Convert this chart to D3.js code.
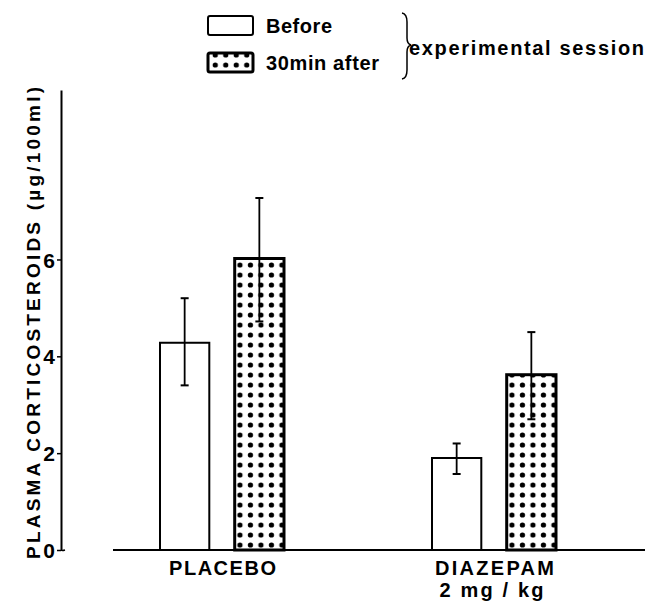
<!DOCTYPE html>
<html>
<head>
<meta charset="utf-8">
<script src="https://cdn.jsdelivr.net/npm/d3@7"></script>
<style>
  body { margin: 0; background: #fff; }
  svg text { font-family: "Liberation Sans", Arial, sans-serif; font-weight: bold; fill: #000; }
  .ylab { font-size: 21px; }
</style>
</head>
<body>
<svg width="647" height="602"></svg>
<script>
(function (d3) {
  'use strict';

  // data
  const groups = ['PLACEBO', 'DIAZEPAM'];
  const groupSub = ['', '2 mg / kg'];
  const series = ['Before', '30min after'];
  const before = [4.28, 1.9];
  const after = [6.02, 3.62];
  const beforeLow = [3.4, 1.57];
  const beforeHigh = [5.2, 2.2];
  const afterLow = [4.72, 2.7];
  const afterHigh = [7.27, 4.5];
  const yTicks = [0, 2, 4, 6];
  const yLabel = 'PLASMA  CORTICOSTEROIDS (\u00b5g/100ml)';

  const svg = d3.select('svg');

  const rows = [];
  groups.forEach((g, i) => {
    rows.push({group: g, key: series[0], value: before[i], lo: beforeLow[i], hi: beforeHigh[i]});
    rows.push({group: g, key: series[1], value: after[i], lo: afterLow[i], hi: afterHigh[i]});
  });

  const yScale = d3.scaleLinear().domain([0, 9.5]).range([550, 90]);
  const x0 = d3.scalePoint().domain(groups).range([86, 630]).padding(0.5);
  const x1 = d3.scaleBand().domain(series).range([-62, 62]).paddingInner(0.34);

  // dotted pattern
  const defs = svg.append('defs');
  const pat = defs.append('pattern')
      .attr('id', 'dots')
      .attr('patternUnits', 'userSpaceOnUse')
      .attr('width', 10.5)
      .attr('height', 10);
  pat.append('rect').attr('width', 10.5).attr('height', 10).attr('fill', '#fff');
  pat.append('circle').attr('cx', 5.25).attr('cy', 5).attr('r', 2.6).attr('fill', '#000');

  const fillFor = k => k === series[0] ? '#fff' : 'url(#dots)';

  // y axis
  const yAxis = d3.axisLeft(yScale)
      .tickValues(yTicks)
      .tickFormat('')
      .tickSize(4)
      .tickSizeOuter(0);
  const yAxisG = svg.append('g')
      .attr('transform', 'translate(61,0)')
      .call(yAxis);
  yAxisG.select('.domain').attr('stroke-width', 2).attr('stroke', '#000');
  yAxisG.selectAll('.tick line').attr('stroke-width', 1.5);
  yAxisG.selectAll('.tick text').remove();
  yAxisG.selectAll('.tick').append('text')
      .attr('class', 'ylab')
      .attr('x', -6)
      .attr('dy', '0.36em')
      .attr('text-anchor', 'end')
      .text(d => d3.format('d')(d));
  yAxisG.append('path')
      .attr('d', `M0,${yScale(0)} q1,1 4,0`)
      .attr('fill', 'none')
      .attr('stroke', '#000')
      .attr('stroke-width', 1.5);

  svg.append('text')
      .attr('transform', `translate(40,${(yScale(0) + yScale(9.5)) / 2 + 3}) rotate(-90)`)
      .attr('text-anchor', 'middle')
      .attr('textLength', 472)
      .attr('lengthAdjust', 'spacing')
      .style('font-size', '19px')
      .text(yLabel);

  // x baseline
  svg.append('line')
      .attr('x1', 113).attr('x2', 645)
      .attr('y1', yScale(0)).attr('y2', yScale(0))
      .attr('stroke', '#000')
      .attr('stroke-width', 2);

  const xAxisG = svg.append('g')
      .attr('transform', `translate(0,${yScale(0)})`)
      .call(d3.axisBottom(x0).tickSize(0));
  xAxisG.select('.domain').remove();
  xAxisG.selectAll('.tick text').remove();
  const ticks = xAxisG.selectAll('.tick');
  ticks.append('text')
      .attr('y', 25)
      .attr('text-anchor', 'middle')
      .attr('textLength', (d, i) => i === 0 ? 107 : 119)
      .attr('lengthAdjust', 'spacing')
      .style('font-size', '20px')
      .text(d => d);
  ticks.filter((d, i) => groupSub[i] !== '').append('text')
      .attr('y', 47)
      .attr('x', -3)
      .attr('text-anchor', 'middle')
      .attr('textLength', 104)
      .attr('lengthAdjust', 'spacing')
      .style('font-size', '20px')
      .text(d => groupSub[groups.indexOf(d)]);

  // bars
  const bars = svg.append('g').selectAll('g.bar').data(rows).enter()
      .append('g')
      .attr('class', 'bar')
      .attr('transform', d => `translate(${x0(d.group) + x1(d.key)},0)`);

  bars.append('rect')
      .attr('x', 0)
      .attr('y', d => yScale(d.value))
      .attr('width', x1.bandwidth())
      .attr('height', d => yScale(0) - yScale(d.value))
      .attr('fill', d => fillFor(d.key))
      .attr('stroke', '#000')
      .attr('stroke-width', d => d.key === series[0] ? 2 : 3);

  // error bars
  const cx = x1.bandwidth() / 2;
  bars.append('line')
      .attr('x1', cx).attr('x2', cx)
      .attr('y1', d => yScale(d.hi))
      .attr('y2', d => yScale(d.lo))
      .attr('stroke', '#000')
      .attr('stroke-width', 1.8);
  bars.append('line')
      .attr('x1', cx - 4).attr('x2', cx + 4)
      .attr('y1', d => yScale(d.hi)).attr('y2', d => yScale(d.hi))
      .attr('stroke', '#000').attr('stroke-width', 2);
  bars.append('line')
      .attr('x1', cx - 4).attr('x2', cx + 4)
      .attr('y1', d => yScale(d.lo)).attr('y2', d => yScale(d.lo))
      .attr('stroke', '#000').attr('stroke-width', 2);

  // legend
  const legend = svg.append('g');
  const legendY = [16, 53];
  const legendText = [series[0], series[1]];
  const legendLen = [66, 113];
  series.forEach((s, i) => {
    legend.append('rect')
        .attr('x', 208).attr('y', legendY[i])
        .attr('width', 45).attr('height', 19)
        .attr('rx', 2)
        .attr('fill', fillFor(s))
        .attr('stroke', '#000')
        .attr('stroke-width', i === 0 ? 2 : 3);
    legend.append('text')
        .attr('x', 266)
        .attr('y', legendY[i] + 17)
        .attr('textLength', legendLen[i])
        .attr('lengthAdjust', 'spacing')
        .style('font-size', '20px')
        .text(legendText[i]);
  });
  legend.append('path')
      .attr('d', 'M402,13 Q407,14 407,22 L407,38 Q407,44 411,45 Q407,46 407,52 L407,70 Q407,78 402,79')
      .attr('fill', 'none')
      .attr('stroke', '#000')
      .attr('stroke-width', 1.5);
  legend.append('text')
      .attr('x', 409)
      .attr('y', 55)
      .attr('textLength', 235)
      .attr('lengthAdjust', 'spacing')
      .style('font-size', '20px')
      .text('experimental  session');

}(d3));
</script>
</body>
</html>
